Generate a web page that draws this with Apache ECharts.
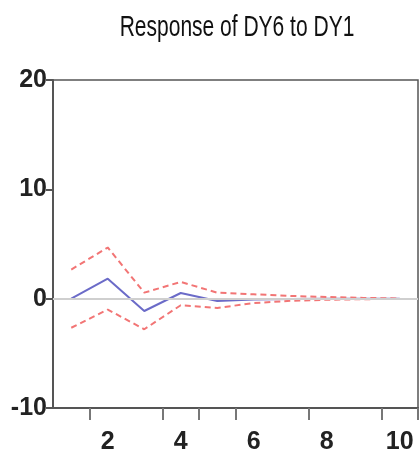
<!DOCTYPE html>
<html>
<head>
<meta charset="utf-8">
<script src="https://cdn.jsdelivr.net/npm/echarts@6/dist/echarts.min.js"></script>
<style>html,body{margin:0;padding:0;background:#fff;}#c{width:420px;height:458px;}</style>
</head>
<body>
<div id="c"></div>
<script>
const periods = ['1','2','3','4','5','6','7','8','9','10'];
const response = [0, 1.83, -1.13, 0.52, -0.21, -0.08, -0.03, -0.01, 0, 0];
const upperBand = [2.66, 4.68, 0.55, 1.53, 0.55, 0.4, 0.25, 0.15, 0.07, 0.02];
const lowerBand = [-2.66, -1.0, -2.8, -0.6, -0.85, -0.4, -0.2, -0.1, -0.05, -0.02];
const yTicks = [-10, 0, 10, 20];
const titleText = 'Response of DY6 to DY1';

const chart = echarts.init(document.getElementById('c'), null, {renderer: 'canvas'});
const font = '"Liberation Sans", Arial, sans-serif';
const tickIdx = [1, 3, 4, 5, 7, 9];
chart.setOption({
  animation: false,
  graphic: [{
    type: 'text', x: 237, y: 28, scaleX: 0.7, z: 10,
    style: {text: titleText, font: '30px "Liberation Sans", Arial, sans-serif', fill: '#111', align: 'center', verticalAlign: 'middle'}
  }],
  grid: {left: 53, right: 2, top: 80, bottom: 50, show: true, borderColor: '#555', borderWidth: 1.5, backgroundColor: '#fff'},
  xAxis: {
    type: 'category', data: periods, boundaryGap: true,
    axisLine: {onZero: false, lineStyle: {color: '#555', width: 2}},
    axisTick: {show: true, length: 12, lineStyle: {color: '#777', width: 2}, interval: (i) => tickIdx.includes(i)},
    axisLabel: {margin: 22, fontFamily: font, fontSize: 25, fontWeight: 'bold', color: '#222', interval: (i) => i % 2 === 1},
    splitLine: {show: false}
  },
  yAxis: {
    type: 'value', min: yTicks[0], max: yTicks[yTicks.length - 1], interval: 10,
    axisLine: {show: true, lineStyle: {color: '#555', width: 2}},
    axisTick: {show: true, length: 7, lineStyle: {color: '#555', width: 2}},
    axisLabel: {margin: 6, fontFamily: font, fontSize: 25, fontWeight: 'bold', color: '#222'},
    splitLine: {show: false}
  },
  series: [
    {
      type: 'line', data: response, symbol: 'none', z: 3,
      lineStyle: {color: '#6b6bc8', width: 2},
      markLine: {
        silent: true, symbol: 'none', label: {show: false},
        lineStyle: {color: '#cfcfcf', width: 2, type: 'solid'},
        data: [{yAxis: 0}]
      }
    },
    {type: 'line', data: upperBand, symbol: 'none', z: 4, lineStyle: {color: '#f27575', width: 2, type: [6, 4]}},
    {type: 'line', data: lowerBand, symbol: 'none', z: 4, lineStyle: {color: '#f27575', width: 2, type: [6, 4]}}
  ]
});
</script>
</body>
</html>
